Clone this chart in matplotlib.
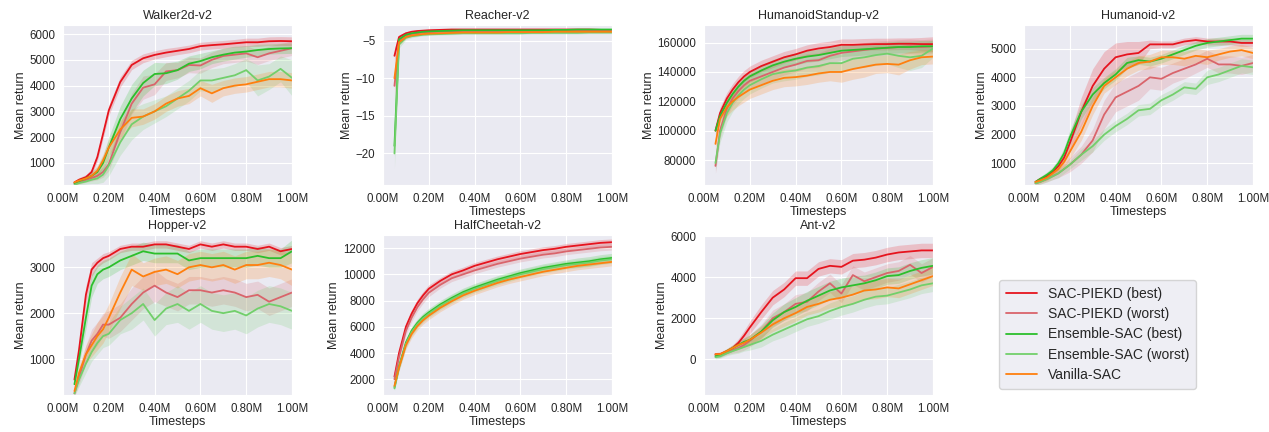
import matplotlib

matplotlib.use("Agg")
import matplotlib.pyplot as plt
import numpy as np
import seaborn as sns
from matplotlib.ticker import FuncFormatter, MultipleLocator

# timesteps, in millions
X = [0.05, 0.07, 0.10, 0.125, 0.15, 0.175, 0.20, 0.25, 0.30, 0.35, 0.40, 0.45,
     0.50, 0.55, 0.60, 0.65, 0.70, 0.75, 0.80, 0.85, 0.90, 0.95, 1.00]

SERIES = ["SAC-PIEKD (best)", "SAC-PIEKD (worst)", "Ensemble-SAC (best)",
          "Ensemble-SAC (worst)", "Vanilla-SAC"]
COLORS = ["#e6141e", "#d9646b", "#2cbf2c", "#72cf6b", "#ff7f0e"]

# ---- Walker2d-v2 ----
walker_mean = [
    [250, 350, 450, 650, 1230, 2130, 3040, 4140, 4800, 5060, 5190, 5280, 5350, 5420, 5530, 5570, 5600, 5640, 5680, 5680, 5720, 5730, 5720],
    [200, 260, 350, 420, 500, 650, 950, 2200, 3300, 3920, 4050, 4550, 4600, 4800, 4780, 5000, 5150, 5200, 5250, 5100, 5250, 5350, 5450],
    [220, 300, 400, 500, 650, 1000, 1600, 2700, 3500, 4100, 4450, 4480, 4600, 4850, 4950, 5100, 5200, 5280, 5320, 5380, 5420, 5440, 5450],
    [150, 220, 280, 350, 400, 550, 900, 1800, 2500, 2800, 3000, 3200, 3500, 3800, 4200, 4200, 4300, 4400, 4600, 4200, 4350, 4650, 4300],
    [250, 320, 400, 500, 700, 1100, 1600, 2300, 2750, 2800, 3000, 3300, 3500, 3600, 3900, 3700, 3900, 4000, 4050, 4150, 4250, 4250, 4200],
]
walker_std = [
    [60, 80, 100, 120, 150, 180, 200, 200, 180, 170, 160, 160, 150, 150, 150, 150, 150, 150, 160, 160, 170, 170, 170],
    [60, 80, 100, 120, 150, 200, 250, 350, 400, 450, 400, 350, 300, 300, 300, 300, 300, 300, 300, 280, 280, 280, 280],
    [60, 80, 100, 150, 200, 300, 400, 500, 550, 500, 450, 400, 350, 300, 300, 250, 250, 250, 220, 220, 200, 200, 200],
    [60, 80, 100, 150, 200, 300, 400, 500, 600, 500, 450, 400, 400, 400, 400, 450, 400, 450, 450, 600, 500, 500, 700],
    [60, 80, 100, 150, 200, 250, 300, 350, 350, 300, 300, 300, 300, 300, 300, 350, 300, 300, 300, 300, 300, 300, 300],
]

# ---- Reacher-v2 ----
reacher_mean = [
    [-7.0, -4.5, -4.0, -3.8, -3.7, -3.65, -3.6, -3.55, -3.5, -3.5, -3.5, -3.5, -3.5, -3.5, -3.5, -3.5, -3.5, -3.5, -3.5, -3.5, -3.5, -3.55, -3.6],
    [-11.0, -5.0, -4.3, -4.1, -4.0, -3.9, -3.85, -3.8, -3.75, -3.7, -3.7, -3.7, -3.7, -3.7, -3.7, -3.7, -3.7, -3.7, -3.7, -3.7, -3.65, -3.65, -3.65],
    [-19.0, -4.8, -4.2, -4.0, -3.9, -3.8, -3.75, -3.7, -3.65, -3.6, -3.6, -3.6, -3.6, -3.6, -3.6, -3.6, -3.6, -3.55, -3.55, -3.5, -3.5, -3.5, -3.5],
    [-20.0, -5.5, -4.6, -4.4, -4.3, -4.2, -4.15, -4.1, -4.05, -4.0, -4.0, -4.0, -4.0, -4.0, -4.0, -3.95, -3.95, -3.95, -3.95, -3.95, -3.9, -3.9, -3.9],
    [-10.0, -5.2, -4.5, -4.3, -4.2, -4.1, -4.05, -4.0, -3.95, -3.9, -3.9, -3.9, -3.9, -3.85, -3.85, -3.85, -3.85, -3.8, -3.8, -3.8, -3.8, -3.8, -3.8],
]
reacher_std = [
    [1.0, 0.3, 0.2, 0.15, 0.12, 0.12, 0.12, 0.12, 0.12, 0.12, 0.12, 0.12, 0.12, 0.12, 0.12, 0.12, 0.12, 0.12, 0.12, 0.12, 0.12, 0.12, 0.12],
    [2.0, 0.4, 0.2, 0.15, 0.12, 0.12, 0.12, 0.12, 0.12, 0.12, 0.12, 0.12, 0.12, 0.12, 0.12, 0.12, 0.12, 0.12, 0.12, 0.12, 0.12, 0.12, 0.12],
    [1.5, 0.4, 0.2, 0.15, 0.12, 0.12, 0.12, 0.12, 0.12, 0.12, 0.12, 0.12, 0.12, 0.12, 0.12, 0.12, 0.12, 0.12, 0.12, 0.12, 0.12, 0.12, 0.12],
    [2.0, 0.5, 0.25, 0.2, 0.15, 0.15, 0.15, 0.15, 0.15, 0.15, 0.15, 0.15, 0.15, 0.15, 0.15, 0.15, 0.15, 0.15, 0.15, 0.15, 0.15, 0.15, 0.15],
    [1.5, 0.4, 0.2, 0.15, 0.12, 0.12, 0.12, 0.12, 0.12, 0.12, 0.12, 0.12, 0.12, 0.12, 0.12, 0.12, 0.12, 0.12, 0.12, 0.12, 0.12, 0.12, 0.12],
]

# ---- HumanoidStandup-v2 ----
standup_mean = [
    [100000, 112000, 122000, 128000, 133000, 137000, 140000, 144000, 147000, 150000, 152000, 154500, 156000, 157000, 158500, 158500, 158800, 159000, 159000, 159200, 159200, 159000, 159000],
    [76000, 100000, 115000, 122000, 127000, 131000, 134000, 137000, 140000, 143000, 145000, 147500, 148000, 151000, 153000, 154000, 155000, 156000, 156500, 157000, 157500, 157000, 157500],
    [100000, 110000, 119000, 125000, 130000, 134000, 137000, 141000, 144500, 147000, 149000, 150500, 151500, 153000, 154500, 155000, 155500, 156000, 156500, 157000, 157000, 157500, 157500],
    [78000, 98000, 112000, 119000, 124000, 128000, 131000, 135000, 138500, 140000, 141000, 143000, 144000, 146000, 146000, 149000, 150000, 151500, 152500, 151000, 150000, 151000, 156000],
    [91000, 108000, 116000, 120000, 123000, 125500, 128000, 131000, 134000, 136000, 136500, 137500, 139000, 140000, 140000, 142000, 143500, 145000, 145500, 145000, 148000, 150000, 150500],
]
standup_std = [
    [3000, 4000, 4000, 4000, 4000, 4000, 4000, 4000, 4000, 4000, 4000, 4000, 4000, 4000, 4000, 4000, 4000, 4000, 4000, 4000, 4000, 4500, 5000],
    [5000, 5000, 5000, 5000, 5000, 5000, 5000, 5000, 5000, 5000, 5000, 5000, 5000, 5000, 5000, 5000, 5000, 5000, 5000, 5000, 5000, 5000, 5000],
    [3000, 4000, 4000, 4000, 4000, 4000, 4000, 4000, 4000, 4000, 4000, 4000, 4000, 4000, 4000, 4000, 4000, 4000, 4000, 4000, 4000, 4000, 4000],
    [5000, 6000, 6000, 6000, 6000, 6000, 6000, 6000, 6000, 6000, 6000, 6000, 6000, 6000, 6000, 6000, 7000, 7000, 7000, 8000, 9000, 8000, 6000],
    [4000, 6000, 6000, 6000, 6000, 6000, 6000, 6000, 6000, 6000, 6000, 6000, 6000, 6000, 7000, 7000, 7000, 6000, 6000, 7000, 6000, 5000, 5000],
]

# ---- Humanoid-v2 ----
humanoid_mean = [
    [350, 450, 550, 700, 900, 1200, 1700, 2800, 3700, 4300, 4700, 4800, 4850, 5150, 5150, 5150, 5250, 5300, 5250, 5250, 5250, 5200, 5200],
    [300, 350, 450, 550, 650, 800, 950, 1300, 1800, 2700, 3300, 3500, 3700, 4000, 3950, 4150, 4300, 4450, 4650, 4450, 4450, 4400, 4500],
    [350, 450, 600, 750, 1000, 1350, 1900, 2800, 3400, 3800, 4100, 4500, 4600, 4550, 4650, 4800, 4950, 5100, 5200, 5250, 5300, 5350, 5350],
    [300, 350, 450, 550, 650, 800, 950, 1300, 1600, 2000, 2300, 2550, 2850, 2900, 3200, 3400, 3650, 3600, 4000, 4100, 4250, 4400, 4350],
    [350, 400, 500, 650, 800, 1050, 1400, 2100, 3000, 3700, 4000, 4300, 4500, 4550, 4700, 4700, 4650, 4750, 4700, 4800, 4900, 4950, 4850],
]
humanoid_std = [
    [60, 80, 100, 120, 150, 200, 300, 500, 600, 600, 500, 450, 400, 150, 120, 120, 120, 120, 120, 120, 120, 120, 120],
    [60, 80, 100, 120, 150, 200, 250, 300, 400, 500, 500, 500, 500, 400, 400, 350, 350, 300, 300, 300, 300, 300, 300],
    [60, 80, 100, 120, 150, 200, 250, 250, 250, 200, 200, 200, 150, 150, 150, 150, 150, 150, 150, 150, 150, 150, 150],
    [60, 80, 100, 120, 150, 150, 150, 200, 200, 200, 200, 200, 200, 200, 200, 200, 200, 200, 250, 250, 250, 250, 250],
    [60, 80, 100, 120, 150, 200, 250, 300, 300, 250, 250, 250, 250, 250, 250, 250, 250, 250, 250, 200, 200, 200, 200],
]

# ---- Hopper-v2 ----
hopper_mean = [
    [550, 1200, 2400, 2950, 3100, 3200, 3250, 3400, 3450, 3450, 3500, 3500, 3450, 3400, 3500, 3450, 3500, 3450, 3450, 3400, 3450, 3350, 3400],
    [250, 600, 1100, 1400, 1550, 1750, 1750, 1900, 2200, 2450, 2600, 2450, 2350, 2500, 2500, 2450, 2500, 2450, 2350, 2400, 2250, 2350, 2450],
    [450, 1000, 1900, 2600, 2850, 2950, 3000, 3150, 3250, 3350, 3300, 3300, 3300, 3150, 3200, 3200, 3200, 3200, 3200, 3250, 3200, 3200, 3350],
    [250, 550, 900, 1150, 1350, 1500, 1550, 1850, 2000, 2200, 1850, 2100, 2200, 2050, 2200, 2050, 2000, 2050, 1950, 2100, 2200, 2150, 2050],
    [300, 700, 1100, 1300, 1500, 1650, 1900, 2450, 2950, 2800, 2900, 2950, 2850, 3000, 3050, 3000, 3050, 2950, 3050, 3050, 3100, 3050, 2950],
]
hopper_std = [
    [60, 150, 200, 150, 100, 100, 90, 80, 80, 80, 80, 80, 80, 80, 80, 80, 80, 80, 80, 80, 80, 80, 80],
    [60, 150, 200, 250, 250, 250, 300, 300, 350, 350, 350, 300, 300, 300, 300, 300, 300, 300, 300, 300, 300, 300, 300],
    [60, 150, 250, 250, 200, 200, 200, 200, 200, 200, 200, 200, 200, 200, 200, 200, 200, 200, 200, 200, 200, 200, 250],
    [60, 150, 200, 200, 250, 250, 250, 300, 350, 350, 350, 350, 400, 400, 400, 400, 400, 400, 400, 400, 400, 400, 400],
    [60, 150, 200, 250, 300, 300, 300, 350, 350, 300, 300, 300, 300, 300, 300, 300, 300, 300, 300, 300, 300, 300, 350],
]

# ---- HalfCheetah-v2 ----
cheetah_mean = [
    [2200, 4000, 6000, 7000, 7800, 8400, 8900, 9500, 10000, 10300, 10650, 10900, 11150, 11350, 11550, 11700, 11850, 11950, 12100, 12200, 12300, 12400, 12450],
    [2000, 3700, 5700, 6700, 7500, 8100, 8600, 9200, 9700, 10000, 10300, 10550, 10800, 11000, 11200, 11350, 11500, 11600, 11750, 11850, 11950, 12050, 12100],
    [1400, 3000, 4800, 5700, 6300, 6750, 7100, 7700, 8200, 8650, 9000, 9300, 9600, 9850, 10100, 10300, 10500, 10650, 10800, 10900, 11000, 11150, 11250],
    [1300, 2900, 4700, 5600, 6200, 6650, 7000, 7600, 8100, 8550, 8900, 9200, 9500, 9750, 10000, 10200, 10400, 10550, 10700, 10800, 10900, 11050, 11150],
    [1500, 2900, 4600, 5450, 6050, 6500, 6850, 7450, 7950, 8400, 8750, 9050, 9350, 9600, 9800, 10000, 10200, 10350, 10500, 10650, 10750, 10850, 10950],
]
cheetah_std = [
    [150, 250, 300, 300, 300, 300, 300, 250, 250, 250, 250, 250, 250, 250, 250, 250, 250, 250, 250, 250, 250, 250, 250],
    [150, 250, 300, 300, 300, 300, 300, 250, 250, 250, 250, 250, 250, 250, 250, 250, 250, 250, 250, 250, 250, 250, 250],
    [150, 250, 300, 300, 300, 300, 300, 300, 300, 300, 300, 300, 300, 300, 300, 300, 300, 300, 300, 350, 350, 350, 350],
    [150, 250, 300, 300, 300, 300, 300, 300, 300, 300, 300, 300, 300, 300, 300, 300, 300, 300, 300, 300, 300, 300, 300],
    [150, 250, 300, 300, 300, 300, 300, 300, 300, 300, 300, 300, 300, 300, 300, 300, 300, 300, 300, 300, 300, 300, 300],
]

# ---- Ant-v2 ----
ant_mean = [
    [250, 250, 400, 550, 800, 1150, 1550, 2300, 3000, 3400, 3950, 3950, 4400, 4550, 4500, 4800, 4850, 4950, 5100, 5200, 5250, 5300, 5300],
    [200, 200, 350, 450, 550, 700, 900, 1350, 2000, 2300, 2700, 2800, 3300, 3700, 3200, 4100, 3800, 4000, 4200, 4300, 4600, 4200, 4500],
    [150, 200, 400, 550, 700, 850, 950, 1350, 1900, 2300, 2550, 2850, 3100, 3350, 3500, 3600, 3700, 3850, 4050, 4100, 4300, 4450, 4550],
    [100, 150, 300, 400, 500, 600, 700, 900, 1200, 1450, 1700, 1950, 2100, 2350, 2550, 2700, 2900, 3050, 3100, 3250, 3400, 3600, 3700],
    [250, 250, 400, 550, 700, 800, 950, 1300, 1700, 2000, 2250, 2550, 2700, 2900, 3000, 3150, 3350, 3400, 3500, 3450, 3650, 3850, 4050],
]
ant_std = [
    [80, 100, 120, 150, 200, 250, 300, 350, 350, 350, 350, 350, 350, 350, 350, 350, 350, 350, 350, 350, 350, 350, 350],
    [80, 100, 120, 150, 200, 250, 300, 350, 400, 400, 450, 450, 450, 450, 450, 450, 450, 450, 450, 450, 450, 450, 450],
    [80, 100, 120, 150, 200, 200, 250, 300, 350, 400, 450, 450, 450, 450, 450, 450, 400, 400, 400, 400, 400, 400, 400],
    [80, 100, 120, 150, 200, 200, 250, 300, 300, 350, 350, 350, 350, 400, 400, 400, 400, 400, 400, 400, 400, 400, 400],
    [80, 100, 120, 150, 200, 200, 250, 300, 350, 400, 400, 400, 400, 400, 400, 450, 450, 450, 450, 450, 450, 450, 450],
]

ENVS = ["Walker2d-v2", "Reacher-v2", "HumanoidStandup-v2", "Humanoid-v2",
        "Hopper-v2", "HalfCheetah-v2", "Ant-v2"]
MEANS = [walker_mean, reacher_mean, standup_mean, humanoid_mean,
         hopper_mean, cheetah_mean, ant_mean]
STDS = [walker_std, reacher_std, standup_std, humanoid_std,
        hopper_std, cheetah_std, ant_std]
YLIMS = [(146, 6350), (-24.2, -2.9), (63000, 172000), (243, 5826),
         (215, 3705), (800, 13000), (-1735, 6050)]
YSTEPS = [1000, 5, 20000, 1000, 1000, 2000, 2000]


def main() -> None:
    sns.set_style("darkgrid")
    plt.rcParams["font.family"] = ["Liberation Sans", "DejaVu Sans"]

    W, H = 1269, 432
    fig = plt.figure(figsize=(W / 100, H / 100), dpi=100)
    lefts = [63, 383, 704, 1024]
    tops = [25, 235]
    aw, ah = 229, 160

    x = np.array(X)
    handles = []
    for i, env in enumerate(ENVS):
        row, col = divmod(i, 4)
        ax = fig.add_axes([lefts[col] / W, 1 - (tops[row] + ah) / H, aw / W, ah / H])
        for k in range(len(SERIES)):
            m = np.array(MEANS[i][k], dtype=float)
            s = np.array(STDS[i][k], dtype=float)
            ax.fill_between(x, m - s, m + s, color=COLORS[k], alpha=0.2, linewidth=0)
            (ln,) = ax.plot(x, m, color=COLORS[k], linewidth=1.3, label=SERIES[k])
            if i == 0:
                handles.append(ln)
        ax.set_xlim(0, 1.0)
        ax.set_ylim(*YLIMS[i])
        ax.xaxis.set_major_locator(MultipleLocator(0.2))
        ax.xaxis.set_major_formatter(FuncFormatter(lambda v, p: f"{v:.2f}M"))
        ax.yaxis.set_major_locator(MultipleLocator(YSTEPS[i]))
        ax.tick_params(labelsize=8.3, pad=2, colors="#262626")
        ax.set_title(env, fontsize=9, pad=4, color="#262626")
        ax.set_xlabel("Timesteps", fontsize=9, labelpad=1, color="#262626")
        ax.set_ylabel("Mean return", fontsize=9, labelpad=2, color="#262626")

    fig.legend(handles, SERIES, loc="upper left", bbox_to_anchor=(999 / W, 1 - 280 / H),
               borderaxespad=0, fontsize=10, frameon=True, facecolor="#EAEAF2",
               edgecolor="#cccccc", handlelength=2.2, labelspacing=0.45, borderpad=0.5)

    fig.savefig("out.png", dpi=100)


if __name__ == "__main__":
    main()
